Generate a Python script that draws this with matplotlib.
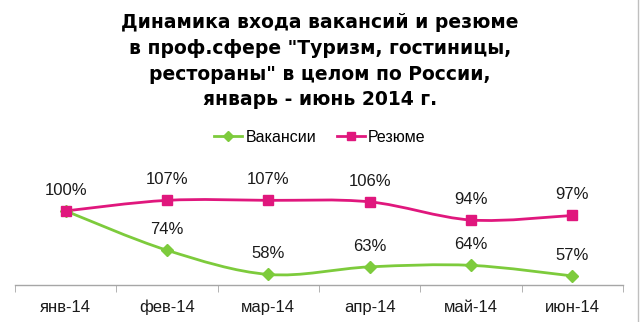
import matplotlib
matplotlib.use("Agg")
import matplotlib.pyplot as plt
from matplotlib.path import Path
from matplotlib.patches import PathPatch
from matplotlib.lines import Line2D
import numpy as np

plt.rcParams['font.family'] = ['Liberation Sans', 'DejaVu Sans']

categories = ["янв-14", "фев-14", "мар-14", "апр-14", "май-14", "июн-14"]
vacancies = [100, 74, 58, 63, 64, 57]
resumes = [100, 107, 107, 106, 94, 97]
series_names = ["Вакансии", "Резюме"]
title = ('Динамика входа вакансий и резюме\nв проф.сфере "Туризм, гостиницы,\n'
         'рестораны" в целом по России,\nянварь - июнь 2014 г.')

GREEN = "#7DCB3C"
PINK = "#E0177D"

fig = plt.figure(figsize=(6.4, 3.22), dpi=100)
ax = fig.add_axes([15/640, (322-285)/322, (623-15)/640, 104.3/322])
ax.set_xlim(-0.5, len(categories) - 0.5)
ax.set_ylim(51, 120)


def smooth_path(xs, ys):
    pts = np.column_stack([xs, ys]).astype(float)
    verts = [tuple(pts[0])]
    codes = [Path.MOVETO]
    n = len(pts)
    for i in range(n - 1):
        p0 = pts[i - 1] if i > 0 else pts[i]
        p1 = pts[i]
        p2 = pts[i + 1]
        p3 = pts[i + 2] if i + 2 < n else pts[i + 1]
        c1 = p1 + (p2 - p0) / 6.0
        c2 = p2 - (p3 - p1) / 6.0
        verts += [tuple(c1), tuple(c2), tuple(p2)]
        codes += [Path.CURVE4] * 3
    return Path(verts, codes)


x = np.arange(len(categories))
for k, (vals, color, marker, ms) in enumerate([(vacancies, GREEN, 'D', 6.5),
                                               (resumes, PINK, 's', 7.5)]):
    ax.add_patch(PathPatch(smooth_path(x, vals), facecolor='none', edgecolor=color,
                           lw=2.0, capstyle='round', joinstyle='round', zorder=2))
    ax.plot(x, vals, linestyle='none', marker=marker, ms=ms, color=color, zorder=3, clip_on=False)
    for i, (xi, v) in enumerate(zip(x, vals)):
        if k == 0 and i == 0:
            continue  # the shared 100% label is shown once
        ax.annotate(f"{v}%", (xi, v), xytext=(0, 15), textcoords='offset points',
                    ha='center', va='center', fontsize=12, color='#1a1a1a',
                    annotation_clip=False)

for s in ['top', 'right', 'left']:
    ax.spines[s].set_visible(False)
ax.spines['bottom'].set_color('#A6A6A6')
ax.spines['bottom'].set_linewidth(1.0)
ax.set_yticks([])
ax.set_xticks(x)
ax.set_xticklabels(categories, fontsize=12, color='#1a1a1a')
ax.tick_params(axis='x', which='major', length=0, pad=10.5)
ax.set_xticks(np.arange(-0.5, len(categories)), minor=True)
ax.tick_params(axis='x', which='minor', length=5, color='#A6A6A6', direction='out')

fig.text(0.5, 1 - 13/322, title, ha='center', va='top', fontsize=13.5,
         fontweight='bold', linespacing=1.45, color='#000000',
         family=['DejaVu Sans'])

handles = [Line2D([], [], color=GREEN, lw=2, marker='D', ms=5),
           Line2D([], [], color=PINK, lw=2, marker='s', ms=5.5)]
fig.legend(handles, series_names, loc='center', bbox_to_anchor=(0.5, 1 - 137/322),
           ncol=2, frameon=False, fontsize=11.5, handlelength=1.75, handletextpad=0.2,
           columnspacing=1.3)

fig.add_artist(Line2D([638/640, 638/640], [0, 1], transform=fig.transFigure,
                      color='#BFBFBF', lw=1))

fig.savefig("out.png", dpi=100, facecolor='white')
